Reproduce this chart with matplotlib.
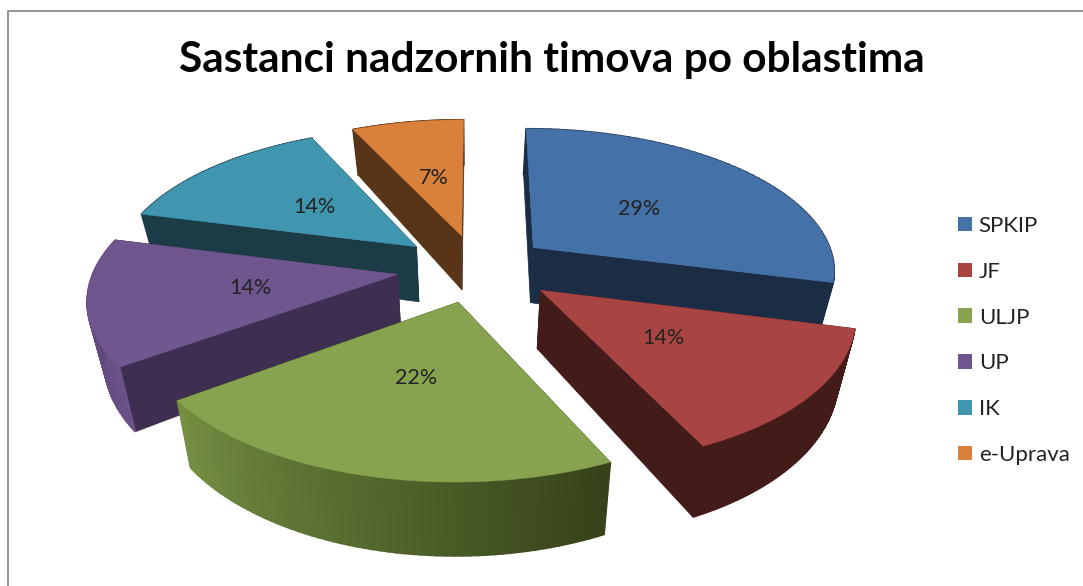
import numpy as np
import matplotlib
matplotlib.use("Agg")
import matplotlib.pyplot as plt
from matplotlib.colors import to_rgb
from matplotlib.patches import Patch

categories = ["SPKIP", "JF", "ULJP", "UP", "IK", "e-Uprava"]
values = [29, 14, 22, 14, 14, 7]

top_colors = ["#4471A7", "#A84543", "#87A34F", "#6F568E", "#4096AF", "#D9803A"]
side_colors = ["#1B2D45", "#431B19", "#364219", "#3E2E50", "#1B3B47", "#583418"]
# outer wall colour at start / end of each arc
rim_start = ["#1B2D45", "#431B19", "#364219", "#6A5288", "#1B3B47", "#583418"]
rim_end = ["#1B2D45", "#431B19", "#748E42", "#564270", "#1B3B47", "#583418"]

# back to front
draw_order = [5, 0, 4, 3, 1, 2]

explode_x = [0.24, 0.265, 0.24, 0.265, 0.265, 0.24]
explode_y = 0.24
cx, cy = 477, 268
rx, ry = 303, 142
persp = 0.148


def top_point(X, Y):
    w = 1 + persp * Y
    return cx + rx * X / w, cy - ry * Y / w


def bottom_point(u, v):
    return 470 + 0.955 * (u - 470), v + 35.3 + 0.08 * v


fig = plt.figure(figsize=(10.83, 5.86), dpi=100)
ax = fig.add_axes([0, 0, 1, 1])
ax.set_xlim(0, 1083)
ax.set_ylim(586, 0)
ax.axis("off")

# chart frame
ax.plot([7.5, 7.5, 1083], [586, 10.5, 10.5], color="#8C8C8C", lw=1.3, solid_joinstyle="miter")

fractions = np.array(values) / sum(values)
ends = np.cumsum(fractions) * 2 * np.pi
starts = ends - fractions * 2 * np.pi

for i in draw_order:
    a0, a1 = starts[i], ends[i]
    mid = (a0 + a1) / 2
    ox, oy = explode_x[i] * np.sin(mid), explode_y * np.cos(mid)

    angles = np.linspace(a0, a1, 60)
    us, vs = top_point(ox + np.sin(angles), oy + np.cos(angles))
    ub, vb = bottom_point(us, vs)
    au, av = top_point(ox, oy)
    bu, bv = bottom_point(au, av)

    # radial walls
    ax.fill([au, us[0], ub[0], bu], [av, vs[0], vb[0], bv], color=side_colors[i], lw=0.5)
    ax.fill([au, us[-1], ub[-1], bu], [av, vs[-1], vb[-1], bv], color=side_colors[i], lw=0.5)

    # outer wall, split up for the shading
    c0, c1 = np.array(to_rgb(rim_start[i])), np.array(to_rgb(rim_end[i]))
    for k in range(len(angles) - 1):
        t = k / (len(angles) - 2)
        col = c0 + (c1 - c0) * t
        ax.fill([us[k], us[k + 1], ub[k + 1], ub[k]], [vs[k], vs[k + 1], vb[k + 1], vb[k]],
                color=col, lw=1.2)

    # top face
    ax.fill(np.r_[au, us], np.r_[av, vs], color=top_colors[i], lw=0.3)

    lu, lv = top_point(ox + 0.48 * np.sin(mid), oy + 0.48 * np.cos(mid))
    ax.text(lu, lv, f"{values[i]}%", ha="center", va="center", family="Lato",
            fontsize=15.5, color="#222222", zorder=20)

ax.text(552, 60, "Sastanci nadzornih timova po oblastima", ha="center", va="center",
        family="Lato", weight="bold", fontsize=30.5, color="black")

handles = [Patch(facecolor=c, label=n) for c, n in zip(top_colors, categories)]
ax.legend(handles=handles, loc="upper left", bbox_to_anchor=(958, 216), bbox_transform=ax.transData,
          frameon=False, prop={"family": "Lato", "size": 16}, labelcolor="#222222",
          handlelength=0.63, handleheight=0.63, handletextpad=0.3, labelspacing=1.16,
          borderpad=0, borderaxespad=0)

fig.savefig("out.png", dpi=100)
